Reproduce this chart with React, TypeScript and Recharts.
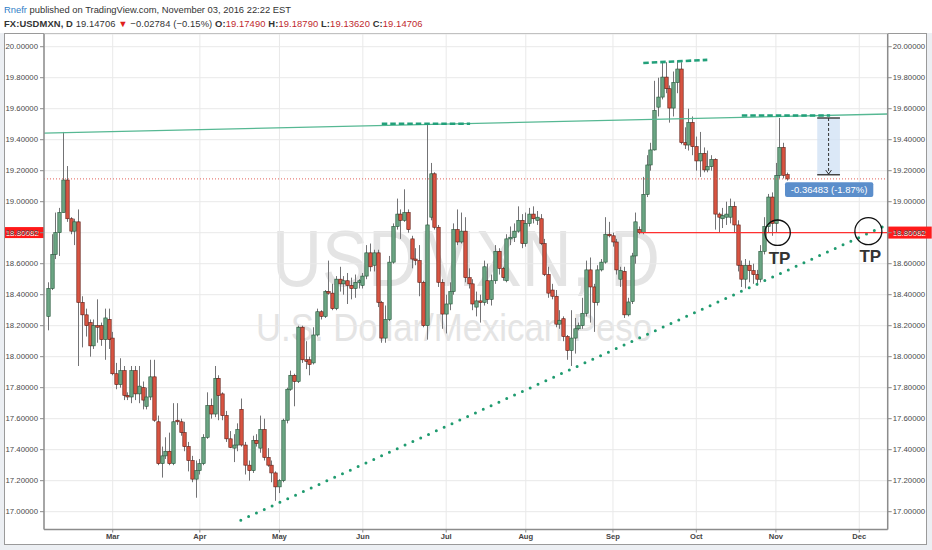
import React from "react";
import {
	Bar,
	CartesianGrid,
	ComposedChart,
	ReferenceArea,
	ReferenceDot,
	ReferenceLine,
	XAxis,
	YAxis,
} from "recharts";

// FX:USDMXN daily, index 0 = 2016-02-05 ... 195 = 2016-11-04 (session open at publish time)
const opens = [
	18.26, 18.44, 18.66, 18.8, 18.93, 19.14, 18.89, 18.81, 18.87, 18.35,
	18.27, 18.22, 18.07, 18.2, 18.2, 18.11, 18.24, 18.12, 17.89, 17.82,
	17.91, 17.75, 17.74, 17.91, 17.76, 17.8, 17.68, 17.74, 17.87, 17.58,
	17.31, 17.36, 17.39, 17.31, 17.59, 17.58, 17.51, 17.42, 17.33, 17.21,
	17.265, 17.31, 17.48, 17.685, 17.63, 17.86, 17.76, 17.62, 17.47, 17.41,
	17.43, 17.66, 17.43, 17.3, 17.265, 17.46, 17.41, 17.53, 17.35, 17.3,
	17.25, 17.16, 17.2, 17.59, 17.79, 17.88, 17.84, 18.19, 17.98, 17.98,
	17.96, 18.14, 18.29, 18.26, 18.42, 18.41, 18.31, 18.5, 18.47, 18.49,
	18.46, 18.44, 18.48, 18.46, 18.52, 18.67, 18.59, 18.67, 18.35, 18.12,
	18.24, 18.61, 18.84, 18.92, 18.88, 18.93, 18.76, 18.63, 18.62, 18.48,
	18.2, 18.9, 19.18, 18.835, 18.48, 18.275, 18.34, 18.42, 18.82, 18.74,
	18.81, 18.51, 18.47, 18.32, 18.36, 18.35, 18.49, 18.37, 18.49, 18.68,
	18.57, 18.49, 18.76, 18.77, 18.81, 18.88, 18.73, 18.86, 18.92, 18.88,
	18.89, 18.73, 18.53, 18.43, 18.39, 18.21, 18.245, 18.13, 18.04, 18.12,
	18.18, 18.2, 18.28, 18.56, 18.45, 18.35, 18.56, 18.61, 18.79, 18.78,
	18.74, 18.5, 18.55, 18.27, 18.356, 18.65, 18.82, 18.8, 19.047, 19.237,
	19.334, 19.61, 19.675, 19.804, 19.729, 19.604, 19.769, 19.856, 19.381, 19.366,
	19.511, 19.355, 19.263, 19.312, 19.205, 19.226, 19.273, 18.92, 18.89, 18.9,
	18.9, 18.97, 18.85, 18.59, 18.5, 18.59, 18.555, 18.53, 18.5, 18.68,
	18.84, 19.03, 18.86, 19.17, 19.35, 19.1749,
];
const highs = [
	18.48, 18.79, 18.93, 18.96, 19.45, 19.23, 18.9, 18.89, 18.95, 18.39,
	18.31, 18.24, 18.24, 18.37, 18.22, 18.31, 18.31, 18.16, 17.96, 17.99,
	17.94, 17.77, 17.94, 17.94, 17.94, 17.84, 17.8, 17.98, 17.98, 17.62,
	17.42, 17.48, 17.51, 17.7, 17.7, 17.6, 17.58, 17.45, 17.36, 17.33,
	17.34, 17.5, 17.77, 17.73, 17.94, 17.88, 17.77, 17.65, 17.52, 17.5,
	17.57, 17.73, 17.45, 17.33, 17.49, 17.5, 17.62, 17.6, 17.41, 17.33,
	17.26, 17.21, 17.6, 17.8, 17.91, 17.89, 18.2, 18.2, 18.1, 18.0,
	18.19, 18.31, 18.3, 18.43, 18.62, 18.47, 18.52, 18.58, 18.52, 18.54,
	18.51, 18.53, 18.5, 18.54, 18.72, 18.73, 18.69, 18.69, 18.36, 18.33,
	18.65, 18.86, 19.02, 18.95, 19.08, 18.95, 18.78, 18.7, 18.72, 18.49,
	19.5, 19.25, 19.19, 18.85, 18.5, 18.4, 18.48, 18.86, 18.95, 18.93,
	18.9, 18.57, 18.5, 18.42, 18.4, 18.62, 18.6, 18.53, 18.72, 18.7,
	18.58, 18.79, 18.84, 18.86, 18.97, 18.92, 18.93, 18.96, 18.97, 18.94,
	18.92, 18.76, 18.58, 18.47, 18.43, 18.3, 18.26, 18.14, 18.3, 18.25,
	18.22, 18.38, 18.62, 18.64, 18.47, 18.59, 18.63, 18.9, 18.87, 18.8,
	18.76, 18.58, 18.58, 18.38, 18.67, 18.93, 18.84, 19.16, 19.3, 19.38,
	19.78, 19.8, 19.9, 19.9, 19.75, 19.84, 19.91, 19.9, 19.48, 19.6,
	19.55, 19.42, 19.45, 19.35, 19.33, 19.3, 19.28, 18.93, 18.96, 19.0,
	19.02, 19.0, 18.88, 18.62, 18.63, 18.62, 18.6, 18.56, 18.72, 18.9,
	19.05, 19.06, 19.25, 19.54, 19.38, 19.1879,
];
const lows = [
	18.17, 18.43, 18.63, 18.65, 18.93, 18.87, 18.79, 18.72, 17.94, 18.06,
	18.13, 18.0, 18.05, 18.09, 18.07, 17.98, 18.05, 17.88, 17.79, 17.8,
	17.72, 17.72, 17.7, 17.72, 17.7, 17.66, 17.66, 17.72, 17.58, 17.3,
	17.22, 17.34, 17.3, 17.3, 17.56, 17.49, 17.39, 17.26, 17.19, 17.09,
	17.24, 17.3, 17.47, 17.6, 17.61, 17.59, 17.59, 17.45, 17.41, 17.32,
	17.39, 17.42, 17.24, 17.2, 17.25, 17.42, 17.38, 17.33, 17.29, 17.19,
	17.07, 17.12, 17.19, 17.57, 17.78, 17.68, 17.83, 17.96, 17.92, 17.88,
	17.95, 18.13, 18.24, 18.25, 18.4, 18.3, 18.3, 18.42, 18.4, 18.34,
	18.37, 18.38, 18.44, 18.44, 18.5, 18.55, 18.55, 18.32, 18.09, 18.09,
	18.23, 18.6, 18.82, 18.76, 18.87, 18.8, 18.57, 18.59, 18.39, 18.19,
	18.11, 18.88, 18.82, 18.45, 18.18, 18.15, 18.3, 18.4, 18.72, 18.73,
	18.48, 18.44, 18.3, 18.26, 18.22, 18.33, 18.34, 18.33, 18.47, 18.53,
	18.49, 18.48, 18.72, 18.74, 18.8, 18.7, 18.71, 18.84, 18.86, 18.85,
	18.72, 18.52, 18.38, 18.37, 18.19, 18.18, 18.1, 17.98, 17.94, 18.02,
	18.17, 18.18, 18.26, 18.22, 18.16, 18.33, 18.55, 18.6, 18.77, 18.71,
	18.53, 18.45, 18.25, 18.26, 18.34, 18.6, 18.79, 18.79, 19.03, 19.2,
	19.33, 19.55, 19.66, 19.7, 19.51, 19.55, 19.7, 19.37, 19.34, 19.33,
	19.3, 19.2, 19.16, 19.19, 19.19, 19.2, 18.82, 18.8, 18.83, 18.85,
	18.86, 18.8, 18.55, 18.45, 18.44, 18.48, 18.47, 18.46, 18.48, 18.66,
	18.8, 18.78, 18.8, 19.15, 19.15, 19.1362,
];
const closes = [
	18.44, 18.66, 18.8, 18.93, 19.14, 18.89, 18.81, 18.87, 18.35, 18.27,
	18.2, 18.07, 18.2, 18.19, 18.11, 18.25, 18.11, 17.89, 17.82, 17.91,
	17.75, 17.74, 17.91, 17.76, 17.81, 17.72, 17.74, 17.87, 17.59, 17.31,
	17.36, 17.39, 17.31, 17.58, 17.58, 17.51, 17.42, 17.33, 17.21, 17.265,
	17.31, 17.48, 17.685, 17.63, 17.86, 17.75, 17.62, 17.47, 17.415, 17.43,
	17.53, 17.43, 17.3, 17.265, 17.46, 17.44, 17.53, 17.35, 17.3, 17.25,
	17.16, 17.2, 17.59, 17.79, 17.88, 17.84, 18.19, 17.98, 17.97, 17.95,
	18.14, 18.29, 18.26, 18.42, 18.41, 18.31, 18.5, 18.47, 18.49, 18.46,
	18.44, 18.48, 18.49, 18.52, 18.67, 18.58, 18.67, 18.35, 18.12, 18.24,
	18.61, 18.84, 18.92, 18.88, 18.93, 18.82, 18.63, 18.62, 18.48, 18.2,
	18.85, 19.18, 18.835, 18.48, 18.275, 18.34, 18.42, 18.82, 18.74, 18.81,
	18.51, 18.47, 18.34, 18.36, 18.35, 18.58, 18.37, 18.49, 18.68, 18.57,
	18.51, 18.76, 18.77, 18.81, 18.88, 18.73, 18.86, 18.92, 18.89, 18.9,
	18.73, 18.53, 18.41, 18.39, 18.21, 18.235, 18.13, 18.04, 18.12, 18.18,
	18.2, 18.28, 18.56, 18.45, 18.35, 18.56, 18.61, 18.79, 18.78, 18.74,
	18.56, 18.556, 18.27, 18.353, 18.65, 18.87, 18.8, 19.047, 19.237, 19.334,
	19.589, 19.675, 19.804, 19.729, 19.604, 19.769, 19.856, 19.381, 19.366, 19.511,
	19.355, 19.263, 19.312, 19.205, 19.226, 19.273, 18.92, 18.9, 18.91, 18.92,
	18.97, 18.85, 18.59, 18.5, 18.59, 18.555, 18.53, 18.5, 18.68, 18.84,
	19.03, 18.86, 19.17, 19.35, 19.17, 19.14706,
];

const monthTicks = [17, 40, 61, 83, 105, 126, 149, 171, 192, 214];
const monthLabels = ["Mar", "Apr", "May", "Jun", "Jul", "Aug", "Sep", "Oct", "Nov", "Dec"];
const priceTicks = [
	17.0, 17.2, 17.4, 17.6, 17.8, 18.0, 18.2, 18.4, 18.6, 18.8, 19.0, 19.2, 19.4, 19.6, 19.8, 20.0,
];

// drawings (bar index / price)
const lastPrice = 19.14706;
const supportLevel = 18.80082;
const supportFrom = 156;
const resistanceAnchors = [
	{ i: 4, p: 19.445 },
	{ i: 193, p: 19.55 },
];
const risingSupport = [
	{ i: 50.8, p: 16.945 },
	{ i: 221.2, p: 18.85 },
];
const topMarks = [
	[{ i: 88, p: 19.503 }, { i: 111.3, p: 19.503 }],
	[{ i: 157, p: 19.895 }, { i: 173.9, p: 19.915 }],
	[{ i: 183, p: 19.556 }, { i: 206.3, p: 19.556 }],
];
const measureBox = { from: 202.9, to: 208.9, top: 19.54, bottom: 19.174 };
const measureTag = { from: 194.4, to: 217.7, top: 19.125, bottom: 19.031, text: "-0.36483 (-1.87%)" };
const tpCircles = [
	{ i: 192.45, p: 18.8, r: 12.7, textP: 18.638 },
	{ i: 216.4, p: 18.81, r: 13.5, textP: 18.653 },
];

const X_DOMAIN: [number, number] = [-1.13, 221.5];
const Y_DOMAIN: [number, number] = [16.885, 20.082];

const UP = "#6ba583";
const UP_EDGE = "#225437";
const DOWN = "#d75442";
const DOWN_EDGE = "#5b1a13";
const WICK = "#737375";
const AXIS = "#8c8c8c";
const FONT = '"Liberation Sans", Arial, sans-serif';

const candles = opens.map((open, i) => ({
	i,
	open,
	high: highs[i],
	low: lows[i],
	close: closes[i],
}));

const lineAt = (a: { i: number; p: number }, b: { i: number; p: number }, i: number) =>
	a.p + ((b.p - a.p) * (i - a.i)) / (b.i - a.i);

const Candle = (props: any) => {
	const { x, y, width, height, payload } = props;
	if (!payload || height == null) return null;
	const { open, close, high, low } = payload;
	const top = Math.min(y, y + height);
	const h = Math.abs(height);
	const k = h / (high - low || 1);
	const cx = Math.round(x + width / 2) + 0.5;
	const yO = top + (high - open) * k;
	const yC = top + (high - close) * k;
	const up = close >= open;
	const bTop = Math.min(yO, yC);
	const bH = Math.max(1, Math.abs(yC - yO));
	return (
		<g>
			<line x1={cx} x2={cx} y1={top} y2={top + h} stroke={WICK} strokeWidth={1} />
			<rect
				x={cx - 1.7}
				y={bTop}
				width={3.4}
				height={bH}
				fill={up ? UP : DOWN}
				stroke={up ? UP_EDGE : DOWN_EDGE}
				strokeWidth={0.6}
			/>
		</g>
	);
};

const PriceTags = (props: any) => {
	const vb = props.viewBox || {};
	const left = vb.x ?? 44;
	const right = left + (vb.width ?? 843.7);
	const y = vb.y ?? 233;
	const txt = supportLevel.toFixed(5);
	return (
		<g fontFamily={FONT} fontSize={8}>
			<rect x={left - 39} y={y - 5.5} width={39} height={11} fill="#ff1a1a" />
			<text x={left - 5} y={y + 3} fill="#fff" textAnchor="end">
				{txt}
			</text>
			<rect x={right} y={y - 6} width={44} height={12} fill="#ff1a1a" />
			<text x={right + 5} y={y + 3} fill="#fff">
				{txt}
			</text>
		</g>
	);
};

const Header = () => (
	<div
		style={{
			position: "absolute",
			left: 4,
			top: 2.5,
			fontFamily: FONT,
			fontSize: 9.4,
			lineHeight: "14px",
			color: "#333",
			whiteSpace: "nowrap",
		}}
	>
		<div>
			<span style={{ color: "#2f7ec7" }}>Rnefr</span> published on TradingView.com, November 03, 2016
			22:22 EST
		</div>
		<div style={{ letterSpacing: 0.1 }}>
			<b>FX:USDMXN, D</b> 19.14706 <span style={{ color: "#e0201b" }}>▼</span> −0.02784 (−0.15%){" "}
			<b>O:</b>
			<span style={{ color: "#c0282d" }}>19.17490</span> <b>H:</b>
			<span style={{ color: "#c0282d" }}>19.18790</span> <b>L:</b>
			<span style={{ color: "#c0282d" }}>19.13620</span> <b>C:</b>
			<span style={{ color: "#c0282d" }}>19.14706</span>
		</div>
	</div>
);

const Watermark = () => (
	<svg width={932} height={550} style={{ position: "absolute", left: 0, top: 0 }}>
		<text
			x={272}
			y={286}
			fontFamily={FONT}
			fontSize={80}
			fill="#e4e4e4"
			textLength={388}
			lengthAdjust="spacingAndGlyphs"
		>
			USDMXN, D
		</text>
		<text
			x={256}
			y={341}
			fontFamily={FONT}
			fontSize={39}
			fill="#e4e4e4"
			textLength={396}
			lengthAdjust="spacingAndGlyphs"
		>
			U.S. Dollar/Mexican Peso
		</text>
	</svg>
);

export default function App() {
	const resLeft = { x: X_DOMAIN[0], y: lineAt(resistanceAnchors[0], resistanceAnchors[1], X_DOMAIN[0]) };
	const resRight = { x: X_DOMAIN[1], y: lineAt(resistanceAnchors[0], resistanceAnchors[1], X_DOMAIN[1]) };
	const arrowX = (measureBox.from + measureBox.to) / 2;

	return (
		<div
			style={{
				position: "absolute",
				left: 0,
				top: 0,
				width: 932,
				height: 550,
				background: "#eceff3",
				fontFamily: FONT,
			}}
		>
			<div style={{ position: "absolute", left: 0, top: 0, width: 932, height: 33, background: "#fff" }} />
			<Header />
			<div
				style={{
					position: "absolute",
					left: 4,
					top: 33,
					width: 923,
					height: 512,
					boxSizing: "border-box",
					border: "1px solid #9a9a9a",
					background: "#fff",
				}}
			/>
			<Watermark />
			<ComposedChart
				width={932}
				height={550}
				data={candles}
				margin={{ top: 34, right: 0, bottom: 0, left: 0 }}
				style={{ position: "absolute", left: 0, top: 0 }}
			>
				<CartesianGrid stroke="#e9e9e9" />
				<XAxis
					type="number"
					dataKey="i"
					domain={X_DOMAIN}
					allowDataOverflow
					ticks={monthTicks}
					interval={0}
					tickFormatter={(v: number) => monthLabels[monthTicks.indexOf(v)] ?? ""}
					height={20.5}
					tickSize={3}
					tickMargin={1.5}
					axisLine={{ stroke: AXIS, strokeWidth: 1.5 }}
					tickLine={{ stroke: AXIS }}
					tick={{ fontSize: 7.6, fontWeight: "bold", fill: "#444", fontFamily: FONT }}
				/>
				<YAxis
					yAxisId={0}
					orientation="left"
					width={44}
					domain={Y_DOMAIN}
					allowDataOverflow
					ticks={priceTicks}
					interval={0}
					tickFormatter={(v: number) => v.toFixed(5)}
					tickSize={4}
					tickMargin={2}
					axisLine={{ stroke: AXIS, strokeWidth: 1.5 }}
					tickLine={{ stroke: AXIS }}
					tick={{ fontSize: 7.8, fill: "#4a4a4a", fontFamily: FONT }}
				/>
				<YAxis
					yAxisId="r"
					orientation="right"
					width={44.3}
					domain={Y_DOMAIN}
					allowDataOverflow
					ticks={priceTicks}
					interval={0}
					tickFormatter={(v: number) => v.toFixed(5)}
					tickSize={4}
					tickMargin={1}
					axisLine={{ stroke: AXIS, strokeWidth: 1.5 }}
					tickLine={{ stroke: AXIS }}
					tick={{ fontSize: 7.8, fill: "#4a4a4a", fontFamily: FONT }}
				/>

				<ReferenceLine
					y={lastPrice}
					stroke="#e2625a"
					strokeDasharray="1 2"
					ifOverflow="visible"
				/>

				<Bar
					dataKey={(d: any) => [d.low, d.high]}
					barSize={3}
					shape={Candle}
					isAnimationActive={false}
				/>

				<ReferenceLine
					segment={[resLeft, resRight]}
					stroke="#56b893"
					strokeWidth={1.3}
					ifOverflow="visible"
				/>
				<ReferenceLine
					segment={[
						{ x: risingSupport[0].i, y: risingSupport[0].p },
						{ x: risingSupport[1].i, y: risingSupport[1].p },
					]}
					stroke="#1f9b6f"
					strokeWidth={3}
					strokeDasharray="0 8.6"
					strokeLinecap="round"
					ifOverflow="visible"
				/>
				{topMarks.map((seg, k) => (
					<ReferenceLine
						key={`top-${k}`}
						segment={[
							{ x: seg[0].i, y: seg[0].p },
							{ x: seg[1].i, y: seg[1].p },
						]}
						stroke="#22a07a"
						strokeWidth={2.6}
						strokeDasharray="5.5 3"
						ifOverflow="visible"
					/>
				))}
				<ReferenceLine
					segment={[
						{ x: supportFrom, y: supportLevel },
						{ x: X_DOMAIN[1], y: supportLevel },
					]}
					stroke="#ff3030"
					strokeWidth={1.2}
					ifOverflow="visible"
				/>
				<ReferenceLine y={supportLevel} stroke="none" ifOverflow="visible" label={PriceTags} />

				<ReferenceArea
					x1={measureBox.from}
					x2={measureBox.to}
					y1={measureBox.bottom}
					y2={measureBox.top}
					fill="#cfe0f4"
					fillOpacity={0.75}
					stroke="none"
					ifOverflow="visible"
				/>
				{[measureBox.top, measureBox.bottom].map((p) => (
					<ReferenceLine
						key={`mb-${p}`}
						segment={[
							{ x: measureBox.from, y: p },
							{ x: measureBox.to, y: p },
						]}
						stroke="#444"
						strokeWidth={1.5}
						ifOverflow="visible"
					/>
				))}
				<ReferenceLine
					segment={[
						{ x: arrowX, y: measureBox.top },
						{ x: arrowX, y: measureBox.bottom + 0.004 },
					]}
					stroke="#333"
					strokeDasharray="3 2"
					ifOverflow="visible"
				/>
				{[-0.75, 0.75].map((dx) => (
					<ReferenceLine
						key={`ah-${dx}`}
						segment={[
							{ x: arrowX + dx, y: measureBox.bottom + 0.03 },
							{ x: arrowX, y: measureBox.bottom + 0.004 },
						]}
						stroke="#333"
						ifOverflow="visible"
					/>
				))}
				<ReferenceArea
					x1={measureTag.from}
					x2={measureTag.to}
					y1={measureTag.bottom}
					y2={measureTag.top}
					fill="#5b8ecb"
					fillOpacity={1}
					stroke="none"
					radius={2}
					ifOverflow="visible"
					label={{
						value: measureTag.text,
						position: "center",
						fill: "#fff",
						fontSize: 9.5,
						fontFamily: FONT,
					}}
				/>

				{tpCircles.map((c) => (
					<ReferenceDot
						key={`c-${c.i}`}
						x={c.i}
						y={c.p}
						r={c.r}
						fill="none"
						stroke="#111"
						strokeWidth={1.3}
						ifOverflow="visible"
					/>
				))}
				{tpCircles.map((c) => (
					<ReferenceDot
						key={`t-${c.i}`}
						x={c.i + 0.5}
						y={c.textP}
						r={1}
						fill="none"
						stroke="none"
						ifOverflow="visible"
						label={{
							value: "TP",
							position: "center",
							fill: "#333",
							fontSize: 17,
							fontWeight: "bold",
							fontFamily: FONT,
						}}
					/>
				))}
			</ComposedChart>
		</div>
	);
}
